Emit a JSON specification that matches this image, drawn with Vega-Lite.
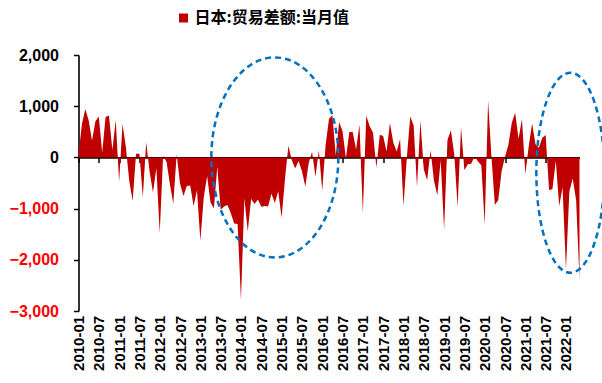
{
  "$schema": "https://vega.github.io/schema/vega-lite/v6.json",
  "width": 501,
  "height": 256,
  "autosize": "none",
  "padding": {"left": 78.5, "top": 55, "right": 22.5, "bottom": 72},
  "background": "white",
  "config": {"view": {"stroke": null}},
  "datasets": {
    "trade": [
      {"m":"2010-01","v":52},{"m":"2010-02","v":649},{"m":"2010-03","v":945},{"m":"2010-04","v":728},{"m":"2010-05","v":331},{"m":"2010-06","v":705},{"m":"2010-07","v":801},{"m":"2010-08","v":96},{"m":"2010-09","v":789},{"m":"2010-10","v":819},{"m":"2010-11","v":145},{"m":"2010-12","v":729},
      {"m":"2011-01","v":-475},{"m":"2011-02","v":653},{"m":"2011-03","v":196},{"m":"2011-04","v":-463},{"m":"2011-05","v":-853},{"m":"2011-06","v":70},{"m":"2011-07","v":72},{"m":"2011-08","v":-775},{"m":"2011-09","v":295},{"m":"2011-10","v":-274},{"m":"2011-11","v":-685},{"m":"2011-12","v":-205},
      {"m":"2012-01","v":-1475},{"m":"2012-02","v":33},{"m":"2012-03","v":-83},{"m":"2012-04","v":-520},{"m":"2012-05","v":-907},{"m":"2012-06","v":61},{"m":"2012-07","v":-517},{"m":"2012-08","v":-754},{"m":"2012-09","v":-559},{"m":"2012-10","v":-549},{"m":"2012-11","v":-953},{"m":"2012-12","v":-641},
      {"m":"2013-01","v":-1629},{"m":"2013-02","v":-777},{"m":"2013-03","v":-362},{"m":"2013-04","v":-880},{"m":"2013-05","v":-993},{"m":"2013-06","v":-180},{"m":"2013-07","v":-1024},{"m":"2013-08","v":-960},{"m":"2013-09","v":-932},{"m":"2013-10","v":-1090},{"m":"2013-11","v":-1293},{"m":"2013-12","v":-1302},
      {"m":"2014-01","v":-2790},{"m":"2014-02","v":-800},{"m":"2014-03","v":-1446},{"m":"2014-04","v":-809},{"m":"2014-05","v":-909},{"m":"2014-06","v":-822},{"m":"2014-07","v":-964},{"m":"2014-08","v":-948},{"m":"2014-09","v":-958},{"m":"2014-10","v":-710},{"m":"2014-11","v":-891},{"m":"2014-12","v":-660},
      {"m":"2015-01","v":-1178},{"m":"2015-02","v":-424},{"m":"2015-03","v":229},{"m":"2015-04","v":-53},{"m":"2015-05","v":-216},{"m":"2015-06","v":-69},{"m":"2015-07","v":-268},{"m":"2015-08","v":-569},{"m":"2015-09","v":-115},{"m":"2015-10","v":111},{"m":"2015-11","v":-379},{"m":"2015-12","v":140},
      {"m":"2016-01","v":-646},{"m":"2016-02","v":242},{"m":"2016-03","v":755},{"m":"2016-04","v":823},{"m":"2016-05","v":40},{"m":"2016-06","v":693},{"m":"2016-07","v":513},{"m":"2016-08","v":-18},{"m":"2016-09","v":498},{"m":"2016-10","v":496},{"m":"2016-11","v":153},{"m":"2016-12","v":641},
      {"m":"2017-01","v":-1087},{"m":"2017-02","v":814},{"m":"2017-03","v":614},{"m":"2017-04","v":481},{"m":"2017-05","v":-203},{"m":"2017-06","v":440},{"m":"2017-07","v":419},{"m":"2017-08","v":113},{"m":"2017-09","v":670},{"m":"2017-10","v":285},{"m":"2017-11","v":113},{"m":"2017-12","v":359},
      {"m":"2018-01","v":-944},{"m":"2018-02","v":3},{"m":"2018-03","v":797},{"m":"2018-04","v":626},{"m":"2018-05","v":-578},{"m":"2018-06","v":721},{"m":"2018-07","v":-231},{"m":"2018-08","v":-445},{"m":"2018-09","v":139},{"m":"2018-10","v":-450},{"m":"2018-11","v":-737},{"m":"2018-12","v":-55},
      {"m":"2019-01","v":-1415},{"m":"2019-02","v":339},{"m":"2019-03","v":528},{"m":"2019-04","v":60},{"m":"2019-05","v":-967},{"m":"2019-06","v":589},{"m":"2019-07","v":-249},{"m":"2019-08","v":-136},{"m":"2019-09","v":-123},{"m":"2019-10","v":17},{"m":"2019-11","v":-82},{"m":"2019-12","v":-154},
      {"m":"2020-01","v":-1313},{"m":"2020-02","v":1110},{"m":"2020-03","v":5},{"m":"2020-04","v":-931},{"m":"2020-05","v":-833},{"m":"2020-06","v":-268},{"m":"2020-07","v":11},{"m":"2020-08","v":248},{"m":"2020-09","v":675},{"m":"2020-10","v":873},{"m":"2020-11","v":366},{"m":"2020-12","v":751},
      {"m":"2021-01","v":-324},{"m":"2021-02","v":217},{"m":"2021-03","v":663},{"m":"2021-04","v":255},{"m":"2021-05","v":187},{"m":"2021-06","v":383},{"m":"2021-07","v":439},{"m":"2021-08","v":-635},{"m":"2021-09","v":-623},{"m":"2021-10","v":-67},{"m":"2021-11","v":-954},{"m":"2021-12","v":-582},
      {"m":"2022-01","v":-2191},{"m":"2022-02","v":-668},{"m":"2022-03","v":-414},{"m":"2022-04","v":-839},{"m":"2022-05","v":-2385}
    ]
  },
  "layer": [
    {
      "data": {"name": "trade"},
      "mark": {"type": "area", "interpolate": "linear"},
      "encoding": {
        "x": {
          "field": "m", "type": "ordinal",
          "scale": {"type": "point", "padding": 0},
          "axis": {
            "title": null,
            "values": ["2010-01","2010-07","2011-01","2011-07","2012-01","2012-07","2013-01","2013-07","2014-01","2014-07","2015-01","2015-07","2016-01","2016-07","2017-01","2017-07","2018-01","2018-07","2019-01","2019-07","2020-01","2020-07","2021-01","2021-07","2022-01"],
            "offset": -153.6,
            "labelAngle": -90,
            "labelPadding": 153,
            "labelFont": "Liberation Sans",
            "labelFontSize": 15,
            "labelFontWeight": "bold",
            "labelColor": "black",
            "labelOverlap": false,
            "domainColor": "black",
            "domainWidth": 1.6,
            "tickColor": "black",
            "tickWidth": 1.5,
            "tickSize": 5,
            "grid": false
          }
        },
        "y": {
          "field": "v", "type": "quantitative", "stack": null,
          "scale": {"domain": [-3000, 2000], "nice": false},
          "axis": {
            "title": null,
            "values": [-3000, -2000, -1000, 0, 1000, 2000],
            "format": ",.0f",
            "labelFont": "Liberation Sans",
            "labelFontSize": 16,
            "labelFontWeight": "bold",
            "labelColor": {"condition": {"test": "datum.value < 0", "value": "#FF0000"}, "value": "black"},
            "labelPadding": 15,
            "domainColor": "black",
            "domainWidth": 1.6,
            "tickColor": "black",
            "tickWidth": 1.5,
            "tickSize": 5,
            "grid": false
          }
        },
        "color": {
          "datum": "日本:贸易差额:当月值",
          "type": "nominal",
          "scale": {"range": ["#C00000"]},
          "legend": {
            "title": null,
            "orient": "none",
            "legendX": 97,
            "legendY": -45,
            "padding": 0,
            "symbolType": "square",
            "symbolSize": 81,
            "symbolStrokeWidth": 0,
            "labelFont": "Noto Sans CJK SC",
            "labelFontSize": 16,
            "labelFontWeight": "bold",
            "labelColor": "black",
            "labelOffset": 3,
            "labelLimit": 400
          }
        }
      }
    },
    {
      "data": {"values": [{"m": "2014-11", "v": 0}]},
      "mark": {
        "type": "point",
        "shape": "M0.635,0C0.635,0.5523,0.3507,1,0,1C-0.3507,1,-0.635,0.5523,-0.635,0C-0.635,-0.5523,-0.3507,-1,0,-1C0.3507,-1,0.635,-0.5523,0.635,0Z",
        "size": 40000,
        "filled": false,
        "stroke": "#0070C0",
        "strokeWidth": 2.5,
        "strokeDash": [6, 4],
        "opacity": 1
      },
      "encoding": {
        "x": {"field": "m", "type": "ordinal"},
        "y": {"field": "v", "type": "quantitative"}
      }
    },
    {
      "data": {"values": [{"m": "2022-02", "v": -300}]},
      "mark": {
        "type": "point",
        "shape": "M0.34,0C0.34,0.5523,0.1878,1,0,1C-0.1878,1,-0.34,0.5523,-0.34,0C-0.34,-0.5523,-0.1878,-1,0,-1C0.1878,-1,0.34,-0.5523,0.34,0Z",
        "size": 40000,
        "filled": false,
        "stroke": "#0070C0",
        "strokeWidth": 2.5,
        "strokeDash": [6, 4],
        "xOffset": 1,
        "opacity": 1
      },
      "encoding": {
        "x": {"field": "m", "type": "ordinal"},
        "y": {"field": "v", "type": "quantitative"}
      }
    }
  ]
}
